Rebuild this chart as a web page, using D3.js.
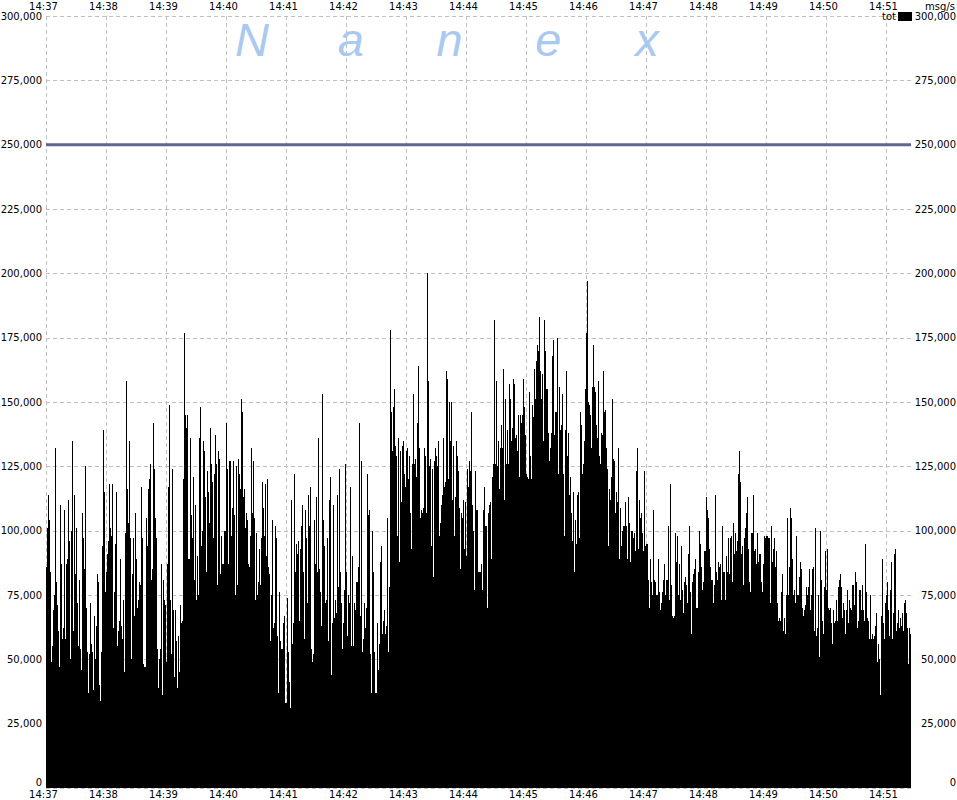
<!DOCTYPE html>
<html><head><meta charset="utf-8">
<script src="https://cdn.jsdelivr.net/npm/d3@7"></script>
<style>
html,body{margin:0;padding:0;background:#fff;}
svg{display:block;font-family:"DejaVu Sans",Verdana,sans-serif;}
</style></head><body>
<svg id="chart" width="957" height="800"></svg>
<script>
// Total messages per second, in thousands, one value per second from 14:37:00
const rates1437 = [86,101,114,104,84,49,55,69,75,132,80,71,61,47,110,87,58,62,108,58,
87,89,112,96,50,100,135,61,114,83,101,72,55,81,54,46,107,97,85,125,
70,53,37,52,72,56,53,38,67,50,63,83,80,40,34,53,94,139,115,76,
84,91,96,118,101,98,118,62,76,95,115,55,61,65,89,63,58,73,45,99,
158,116,103,135,97,50,83,97,67,107,89,70,73,80,79,117,97,48,47,47,
105,94,116,120,126,81,85,142,124,105,97,54,39,50,54,87,36,81,73,71,
49,87,117,149,73,52,124,69,43,69,57,39,59,45,71,64,65,120,177,145,
140,145,89];
const rates1439 = [89,136,106,97,121,81,110,73,90,75,136,148,94,100,135,131,113,84,123,115,
103,140,126,119,97,122,137,126,79,131,128,83,98,87,87,100,100,142,124,87,
127,127,98,109,127,106,75,125,79,128,122,116,151,146,113,116,101,107,104,87,
86,98,132,107,127,105,73,99,75,80,93,79,97,119,109,98,118,90,120,86,
83,57,75,104,62,64,102,97,59,37,76,57,54,54,64,67,33,33,74,53,
41,31,112,56,64,122,84,95,91,96,65,93,102,110,84,58,108,97,72,114,
102,117,54,49,52,104,87,113,84,136,85,76,63,153,104,94,72,73,97,57,
112,121,44,64,110,66];
const rates1441 = [73,68,114,78,124,84,72,54,64,77,126,84,59,75,72,117,55,90,55,72,
69,80,80,86,142,67,127,53,58,72,62,70,122,106,108,52,37,100,84,53,
37,37,64,46,56,88,94,60,65,69,60,63,105,53,78,178,146,131,148,155,
133,129,98,136,88,131,111,133,135,122,117,131,132,120,129,107,93,126,153,126,
128,121,142,164,132,105,108,107,109,132,129,107,200,158,125,128,94,124,82,127,
132,129,125,135,98,103,110,114,136,117,119,162,159,120,150,135,150,112,133,98,
113,135,129,123,109,85,107,105,112,93,111,90,124,117,127,123,146,110,100,77,
123,108,108,84,84];
const rates1444 = [84,87,77,108,117,102,102,70,107,110,111,89,121,126,182,126,158,125,135,116,
132,141,132,163,112,151,126,139,126,157,151,135,140,159,157,136,137,131,145,121,
145,142,145,159,148,137,122,121,120,154,129,120,149,144,163,151,166,172,170,183,
162,151,161,135,182,170,155,155,138,127,132,138,168,174,137,146,146,175,122,156,
139,141,153,122,98,139,162,129,138,114,121,107,96,115,84,104,95,114,115,97,
146,141,122,126,135,155,177,197,150,149,145,132,156,172,156,154,141,136,158,129,
126,138,137,162,146,147,132,124,94,116,112,121,151,128,127,107,115,111,132,89,
109,94,100,102,102];
const rates1446 = [111,102,89,113,103,88,100,100,97,99,92,123,132,93,112,105,107,99,92,123,
94,95,95,81,70,89,80,75,108,81,80,75,75,89,76,69,72,76,81,87,
75,81,81,102,73,118,79,67,66,67,99,88,98,75,87,73,94,77,68,80,
82,79,72,91,102,76,60,80,83,85,89,70,70,84,100,95,86,77,80,92,
92,113,108,105,93,86,81,81,72,79,114,84,81,88,86,87,73,102,84,84,
73,90,84,97,83,97,98,80,103,91,99,92,96,122,131,119,91,94,79,97,
101,107,113,93,80,76,99,99,114,92,93,87,99,88,91,91,80,76,87,98,
97,98,98,97,97];
const rates1449 = [72,102,88,93,97,86,92,72,65,66,65,76,83,61,66,60,75,105,75,86,
109,105,89,75,77,72,98,75,75,82,88,85,70,67,69,71,78,75,78,85,
69,75,85,86,61,101,59,62,75,51,100,81,65,60,78,92,77,93,70,69,
70,64,56,69,64,65,73,65,78,81,83,78,66,72,69,60,69,77,64,73,
70,69,79,79,71,84,80,62,65,77,77,69,79,69,65,95,76,66,65,58,
75,58,60,58,59,63,68,49,56,50,36,67,89,64,58,72,75,80,69,59,
77,88,58,68,91,93,61,64,69,62,66,63,68,61,72,73,68,62,48,62,60];

const seriesName = "tot";
const unitLabel = "msg/s";
const yTickValues = [0,25000,50000,75000,100000,125000,150000,175000,200000,225000,250000,275000,300000];
const timeTickLabels = ["14:37","14:38","14:39","14:40","14:41","14:42","14:43","14:44","14:45","14:46","14:47","14:48","14:49","14:50","14:51"];
const referenceLevel = [250000];
const watermarkLetters = ["N","a","n","e","x"];

const values = [].concat(rates1437, rates1439, rates1441, rates1444, rates1446, rates1449).map(v => v * 1000);
const day = [2010, 0, 4];
const start = new Date(day[0], day[1], day[2], 14, 37, 0);
const data = values.map((v, i) => ({t: new Date(+start + i * 1000), v}));
const end = new Date(+start + values.length * 1000);
const tickDates = timeTickLabels.map(s => { const p = s.split(":"); return new Date(day[0], day[1], day[2], +p[0], +p[1], 0); });

const L = 46, T = 16, B = 788;
const x = d3.scaleTime().domain([start, end]).range([L, L + values.length]);
const y = d3.scaleLinear().domain([0, 300000]).range([B, T]);
const R = x.range()[1];
const fmt = d3.format(",");
const svg = d3.select("#chart");

// grid
const grid = svg.append("g").attr("stroke", "#c0c0c0").attr("stroke-dasharray", "4,3").attr("shape-rendering", "crispEdges");
grid.selectAll("line.v").data(tickDates).join("line").attr("class", "v")
  .attr("x1", d => Math.round(x(d)) + 0.5).attr("x2", d => Math.round(x(d)) + 0.5)
  .attr("y1", T).attr("y2", B + 1);
grid.selectAll("line.h").data(yTickValues).join("line").attr("class", "h")
  .attr("x1", L).attr("x2", R)
  .attr("y1", d => Math.round(y(d)) + 0.5).attr("y2", d => Math.round(y(d)) + 0.5);

// watermark
const wm = svg.append("text").attr("fill", "#a9c9f0").attr("font-family", "'Liberation Sans', Arial, sans-serif")
  .attr("font-style", "italic").attr("text-anchor", "middle");
const wmX = d3.scalePoint().domain(d3.range(watermarkLetters.length)).range([252, 647]);
wm.selectAll("tspan").data(watermarkLetters).join("tspan")
  .attr("x", (d, i) => wmX(i)).attr("y", 56)
  .attr("font-size", 47)
  .text(d => d);

// bars
svg.append("g").attr("fill", "#000").attr("shape-rendering", "crispEdges")
  .selectAll("rect").data(data).join("rect")
  .attr("x", d => x(d.t))
  .attr("width", d => x(new Date(+d.t + 1000)) - x(d.t))
  .attr("y", d => y(d.v))
  .attr("height", d => y(0) - y(d.v));

// reference line
svg.append("g").selectAll("line").data(referenceLevel).join("line")
  .attr("x1", L).attr("x2", R).attr("y1", d => y(d)).attr("y2", d => y(d))
  .attr("stroke", "#5f6490").attr("stroke-width", 3);

// y labels
const ylab = svg.append("g").attr("font-size", 10).attr("fill", "#000");
ylab.selectAll("text.l").data(yTickValues).join("text").attr("class", "l")
  .attr("x", 42).attr("text-anchor", "end")
  .attr("y", d => d === 0 ? y(d) - 2.5 : y(d) + 3.5).text(d => fmt(d));
ylab.selectAll("text.r").data(yTickValues).join("text").attr("class", "r")
  .attr("x", 956).attr("text-anchor", "end")
  .attr("y", d => d === 0 ? y(d) - 2.5 : y(d) + 3.5).text(d => fmt(d));

// time labels
const tfmt = d3.timeFormat("%H:%M");
const tl = svg.append("g").attr("font-size", 10).attr("fill", "#000").attr("text-anchor", "middle");
tl.selectAll("text.t").data(tickDates).join("text").attr("class", "t")
  .attr("x", d => x(d) - 2.5).attr("y", 10).text(d => tfmt(d));
tl.selectAll("text.b").data(tickDates).join("text").attr("class", "b")
  .attr("x", d => x(d) - 2.5).attr("y", 797.5).text(d => tfmt(d));

// unit and legend
svg.append("text").attr("x", 955).attr("y", 10).attr("font-size", 10).attr("text-anchor", "end").text(unitLabel);
svg.append("text").attr("x", 896).attr("y", 20).attr("font-size", 10).attr("text-anchor", "end").text(seriesName);
svg.append("rect").attr("x", 898).attr("y", 12).attr("width", 14).attr("height", 9).attr("fill", "#000");
</script>
</body></html>
